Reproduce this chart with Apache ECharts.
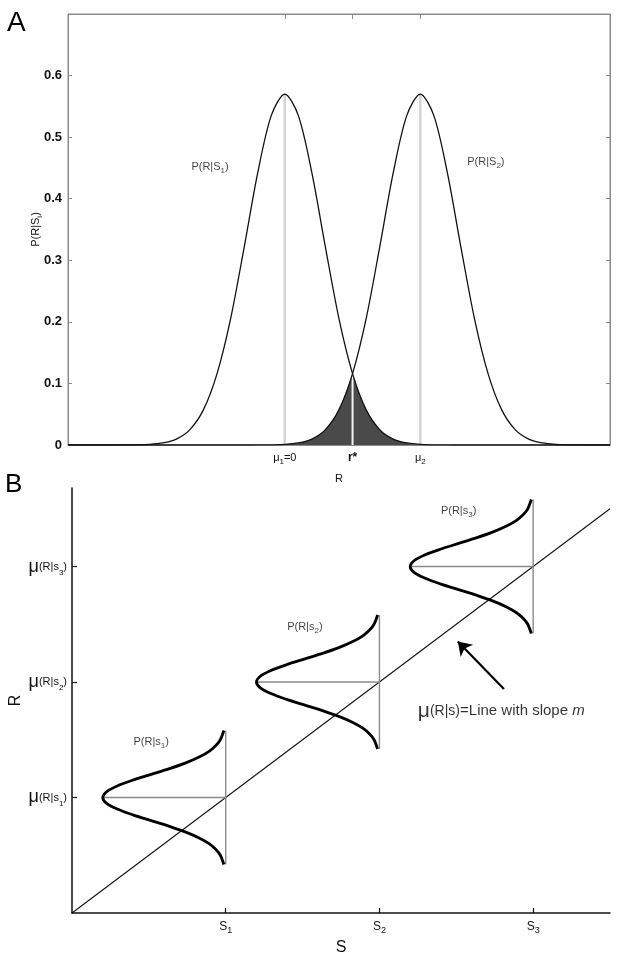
<!DOCTYPE html>
<html>
<head>
<meta charset="utf-8">
<script src="https://cdn.jsdelivr.net/npm/echarts@6/dist/echarts.min.js"></script>
<style>
  html, body { margin: 0; padding: 0; background: #fff; }
  #chart { width: 621px; height: 957px; }
</style>
</head>
<body>
<div id="chart"></div>
<script>
// ---- panel A : two response distributions ----
var rA = [-4, -3.75, -3.5, -3.25, -3, -2.75, -2.5, -2.25, -2, -1.75, -1.5, -1.25, -1, -0.75, -0.5, -0.25,
  0, 0.25, 0.5, 0.75, 1, 1.25, 1.5, 1.75, 2, 2.25, 2.5, 2.75, 3, 3.25, 3.5, 3.75, 4, 4.25, 4.5, 4.75,
  5, 5.25, 5.5, 5.75, 6];
var pS1 = [0, 0, 0, 0, 0.0001, 0.0003, 0.001, 0.0033, 0.0096, 0.025, 0.0574, 0.116, 0.205, 0.321, 0.442, 0.535,
  0.57, 0.535, 0.442, 0.321, 0.205, 0.116, 0.0574, 0.025, 0.0096, 0.0033, 0.001, 0.0003, 0.0001, 0, 0, 0, 0, 0, 0, 0,
  0, 0, 0, 0, 0];
var pS2 = [0, 0, 0, 0, 0, 0, 0, 0, 0, 0, 0, 0, 0, 0, 0.0001, 0.0003,
  0.001, 0.0033, 0.0096, 0.025, 0.0574, 0.116, 0.205, 0.321, 0.442, 0.535, 0.57, 0.535, 0.442, 0.321, 0.205, 0.116,
  0.0574, 0.025, 0.0096, 0.0033, 0.001, 0.0003, 0.0001, 0, 0];
var muA = [0, 2.5];
var peakA = 0.57;
var rStar = 1.25;
var rStarP = 0.116;
var xTicksA = [0, 1.25, 2.5];
var xTickLabelsA = ['{t|\u03bc}{s|1}{t|=0}', '{b|r*}', '{t|\u03bc}{s|2}'];
var curveLabelsA = ['{t|P(R|S}{s|1}{t|)}', '{t|P(R|S}{s|2}{t|)}'];
var curveLabelPosA = [[-1.38, 0.452], [3.71, 0.46]];

// ---- panel B : response mean grows with stimulus ----
var stimuli = [1, 2, 3];
var muR = [1, 2, 3];
var spreadB = [-0.58, -0.5, -0.45, -0.4, -0.35, -0.3, -0.25, -0.2, -0.15, -0.1, -0.05, 0,
  0.05, 0.1, 0.15, 0.2, 0.25, 0.3, 0.35, 0.4, 0.45, 0.5, 0.58];
var densityB = [0.012, 0.035, 0.064, 0.108, 0.173, 0.26, 0.366, 0.485, 0.604, 0.706, 0.775, 0.8,
  0.775, 0.706, 0.604, 0.485, 0.366, 0.26, 0.173, 0.108, 0.064, 0.035, 0.012];
var peakB = 0.8;
var halfSpanB = 0.58;
var slopeLine = [[0, 0], [3.5, 3.5]];
var xTickLabelsB = ['{t|S}{s|1}', '{t|S}{s|2}', '{t|S}{s|3}'];
var yTickLabelsB = ['{m|\u03bc}{t|(R|s}{s|1}{t|)}', '{m|\u03bc}{t|(R|s}{s|2}{t|)}', '{m|\u03bc}{t|(R|s}{s|3}{t|)}'];
var curveLabelsB = ['{t|P(R|s}{s|1}{t|)}', '{t|P(R|s}{s|2}{t|)}', '{t|P(R|s}{s|3}{t|)}'];
var arrowB = [[2.81, 1.94], [2.51, 2.35]];
var noteB = '{m|\u03bc}{p|(R|s)}{q|=Line with slope }{i|m}';
var notePosB = [2.25, 1.75];

var FONT = "'Liberation Sans', Arial, Helvetica, sans-serif";

var richA = {
  t: { fontSize: 11, lineHeight: 16, fontFamily: FONT, color: '#111' },
  s: { fontSize: 8, lineHeight: 8, verticalAlign: 'bottom', fontFamily: FONT, color: '#111' },
  b: { fontSize: 12, lineHeight: 16, fontWeight: 'bold', fontFamily: FONT, color: '#111' }
};
var richB = {
  m: { fontSize: 18, lineHeight: 20, fontFamily: FONT, color: '#111' },
  t: { fontSize: 11, lineHeight: 20, fontFamily: FONT, color: '#111' },
  s: { fontSize: 8, lineHeight: 12, verticalAlign: 'bottom', fontFamily: FONT, color: '#111' }
};
var richX = {
  t: { fontSize: 12, lineHeight: 16, fontFamily: FONT, color: '#111' },
  s: { fontSize: 9, lineHeight: 8, verticalAlign: 'bottom', fontFamily: FONT, color: '#111' }
};
var richNote = {
  m: { fontSize: 21, lineHeight: 26, fontFamily: FONT, color: '#000' },
  p: { fontSize: 14, lineHeight: 26, fontFamily: FONT, color: '#000' },
  q: { fontSize: 15, lineHeight: 26, fontFamily: FONT, color: '#000' },
  i: { fontSize: 15, lineHeight: 26, fontStyle: 'italic', fontFamily: FONT, color: '#000' }
};

function pairs(xs, ys) {
  return xs.map(function (x, i) { return [x, ys[i]]; });
}

var curve1 = pairs(rA, pS1);
var curve2 = pairs(rA, pS2);
// overlap: under S2 left of r*, under S1 right of r*
var shadeLeft = curve2.filter(function (p) { return p[0] >= muA[0] && p[0] <= rStar; });
var shadeRight = curve1.filter(function (p) { return p[0] >= rStar && p[0] <= muA[1]; });

var gray = '#8a8a8a';

var series = [];
muA.forEach(function (m) {
  series.push({
    type: 'line', xAxisIndex: 0, yAxisIndex: 0, symbol: 'none', silent: true,
    data: [[m, 0], [m, peakA]],
    lineStyle: { color: '#d4d4d4', width: 2.5 }
  });
});
[shadeLeft, shadeRight].forEach(function (d) {
  series.push({
    type: 'line', xAxisIndex: 0, yAxisIndex: 0, symbol: 'none', smooth: 0.3, silent: true,
    data: d, lineStyle: { width: 0 }, areaStyle: { color: '#4a4a4a', opacity: 1 }
  });
});
series.push({
  type: 'line', xAxisIndex: 0, yAxisIndex: 0, symbol: 'none', silent: true,
  data: [[rStar, 0], [rStar, rStarP]], lineStyle: { color: '#f2f2f2', width: 2 }
});
[curve1, curve2].forEach(function (d) {
  series.push({
    type: 'line', xAxisIndex: 0, yAxisIndex: 0, symbol: 'none', smooth: 0.3, silent: true,
    data: d, lineStyle: { color: '#111', width: 1.3 }
  });
});
series.push({
  type: 'scatter', xAxisIndex: 0, yAxisIndex: 0, symbolSize: 0, silent: true,
  data: curveLabelPosA.map(function (p, i) { return { value: p, name: curveLabelsA[i] }; }),
  label: {
    show: true, position: 'inside', rich: richA,
    formatter: function (p) { return p.name; }
  }
});

// panel B
series.push({
  type: 'line', xAxisIndex: 1, yAxisIndex: 1, symbol: 'none', silent: true,
  data: slopeLine, lineStyle: { color: '#111', width: 1.1 }
});
series.push({
  type: 'lines', coordinateSystem: 'cartesian2d', xAxisIndex: 1, yAxisIndex: 1, silent: true,
  symbol: ['none', 'arrow'], symbolSize: 13,
  lineStyle: { color: '#000', width: 2.2, opacity: 1 },
  itemStyle: { color: '#000' },
  data: [{ coords: arrowB }]
});
stimuli.forEach(function (s, k) {
  var mu = muR[k];
  series.push({
    type: 'line', xAxisIndex: 1, yAxisIndex: 1, symbol: 'none', silent: true,
    data: [[s, mu - halfSpanB], [s, mu + halfSpanB]],
    lineStyle: { color: gray, width: 1.4 }
  });
  series.push({
    type: 'line', xAxisIndex: 1, yAxisIndex: 1, symbol: 'none', silent: true,
    data: [[s - peakB, mu], [s, mu]],
    lineStyle: { color: gray, width: 1.4 }
  });
  series.push({
    type: 'line', xAxisIndex: 1, yAxisIndex: 1, symbol: 'none', smooth: 0.3, silent: true,
    data: spreadB.map(function (o, i) { return [s - densityB[i], mu + o]; }),
    lineStyle: { color: '#000', width: 2.8 }
  });
});
series.push({
  type: 'scatter', xAxisIndex: 1, yAxisIndex: 1, symbolSize: 0, silent: true,
  data: stimuli.map(function (s, k) { return { value: [s - 0.485, muR[k] + 0.48], name: curveLabelsB[k] }; }),
  label: {
    show: true, position: 'inside', rich: richA,
    formatter: function (p) { return p.name; }
  }
});
series.push({
  type: 'scatter', xAxisIndex: 1, yAxisIndex: 1, symbolSize: 0, silent: true,
  data: [{ value: notePosB, name: noteB }],
  label: {
    show: true, position: 'right', distance: 0, rich: richNote,
    formatter: function (p) { return p.name; }
  }
});

var chart = echarts.init(document.getElementById('chart'), null, { renderer: 'canvas' });
chart.setOption({
  animation: false,
  backgroundColor: '#fff',
  textStyle: { fontFamily: FONT },
  graphic: [
    { type: 'text', left: 7, top: 9, style: { text: 'A', fontSize: 28, fontFamily: FONT, fill: '#000' } },
    { type: 'text', left: 5, top: 472, style: { text: 'B', fontSize: 26, fontFamily: FONT, fill: '#000' } }
  ],
  grid: [
    { left: 68, top: 14, width: 542, height: 431, show: true, borderColor: gray, borderWidth: 1, backgroundColor: 'transparent' },
    { left: 72, top: 488, width: 538, height: 429 }
  ],
  xAxis: [
    {
      gridIndex: 0, type: 'value', min: -4, max: 6, position: 'bottom',
      name: 'R', nameLocation: 'middle', nameGap: 28, nameMoveOverlap: false,
      nameTextStyle: { fontSize: 11, fontFamily: FONT, color: '#111' },
      axisLine: { show: true, onZero: false, lineStyle: { color: gray, width: 1 } },
      axisTick: { show: true, inside: true, length: 4, customValues: xTicksA, lineStyle: { color: gray } },
      axisLabel: {
        show: true, margin: 5, customValues: xTicksA, rich: richA,
        formatter: function (v) { return xTickLabelsA[xTicksA.indexOf(v)] || ''; }
      },
      splitLine: { show: false }
    },
    {
      gridIndex: 0, type: 'value', min: -4, max: 6, position: 'top',
      axisLine: { show: true, onZero: false, lineStyle: { color: gray, width: 1 } },
      axisTick: { show: true, inside: true, length: 5, customValues: xTicksA, lineStyle: { color: gray } },
      axisLabel: { show: true, customValues: xTicksA, formatter: function () { return ''; } },
      splitLine: { show: false }
    },
    {
      gridIndex: 1, type: 'value', min: 0, max: 3.5,
      name: 'S', nameLocation: 'middle', nameGap: 27, nameMoveOverlap: false,
      nameTextStyle: { fontSize: 16, fontFamily: FONT, color: '#111' },
      axisLine: { show: true, onZero: false, lineStyle: { color: '#111', width: 1.5 } },
      axisTick: { show: true, inside: true, length: 5, customValues: stimuli, lineStyle: { color: '#111', width: 1.2 } },
      axisLabel: {
        show: true, margin: 6, customValues: stimuli, rich: richX,
        formatter: function (v) { return xTickLabelsB[stimuli.indexOf(v)] || ''; }
      },
      splitLine: { show: false }
    }
  ],
  yAxis: [
    {
      gridIndex: 0, type: 'value', min: 0, max: 0.7, interval: 0.1, position: 'left',
      name: 'P(R|S{s|i}{t|)}', nameLocation: 'middle', nameGap: 24, nameMoveOverlap: false,
      nameTextStyle: { fontSize: 11, lineHeight: 16, fontFamily: FONT, color: '#111', rich: richA },
      axisLine: { show: true, onZero: false, lineStyle: { color: gray, width: 1 } },
      axisTick: { show: true, inside: true, length: 4, lineStyle: { color: gray } },
      axisLabel: {
        show: true, margin: 6, fontSize: 13, fontWeight: 'bold', fontFamily: FONT, color: '#111',
        formatter: function (v) {
          if (v > 0.65) return '';
          return v === 0 ? '0' : v.toFixed(1);
        }
      },
      splitLine: { show: false }
    },
    {
      gridIndex: 0, type: 'value', min: 0, max: 0.7, interval: 0.1, position: 'right',
      axisLine: { show: true, onZero: false, lineStyle: { color: gray, width: 1 } },
      axisTick: { show: true, inside: true, length: 4, lineStyle: { color: gray } },
      axisLabel: { show: false },
      splitLine: { show: false }
    },
    {
      gridIndex: 1, type: 'value', min: 0, max: 3.68,
      name: 'R', nameLocation: 'middle', nameGap: 48, nameMoveOverlap: false,
      nameTextStyle: { fontSize: 16, fontFamily: FONT, color: '#111' },
      axisLine: { show: true, onZero: false, lineStyle: { color: '#111', width: 1.5 } },
      axisTick: { show: true, inside: true, length: 5, customValues: muR, lineStyle: { color: '#111', width: 1.2 } },
      axisLabel: {
        show: true, margin: 5, customValues: muR, rich: richB,
        formatter: function (v) { return yTickLabelsB[muR.indexOf(v)] || ''; }
      },
      splitLine: { show: false }
    }
  ],
  series: series.map(function (s) {
    // logical panel axes (0: A, 1: B) -> actual axis indices
    var o = Object.assign({}, s);
    if (s.xAxisIndex === 1) { o.xAxisIndex = 2; o.yAxisIndex = 2; }
    return o;
  })
});
window.addEventListener('resize', function () { chart.resize(); });
</script>
</body>
</html>
